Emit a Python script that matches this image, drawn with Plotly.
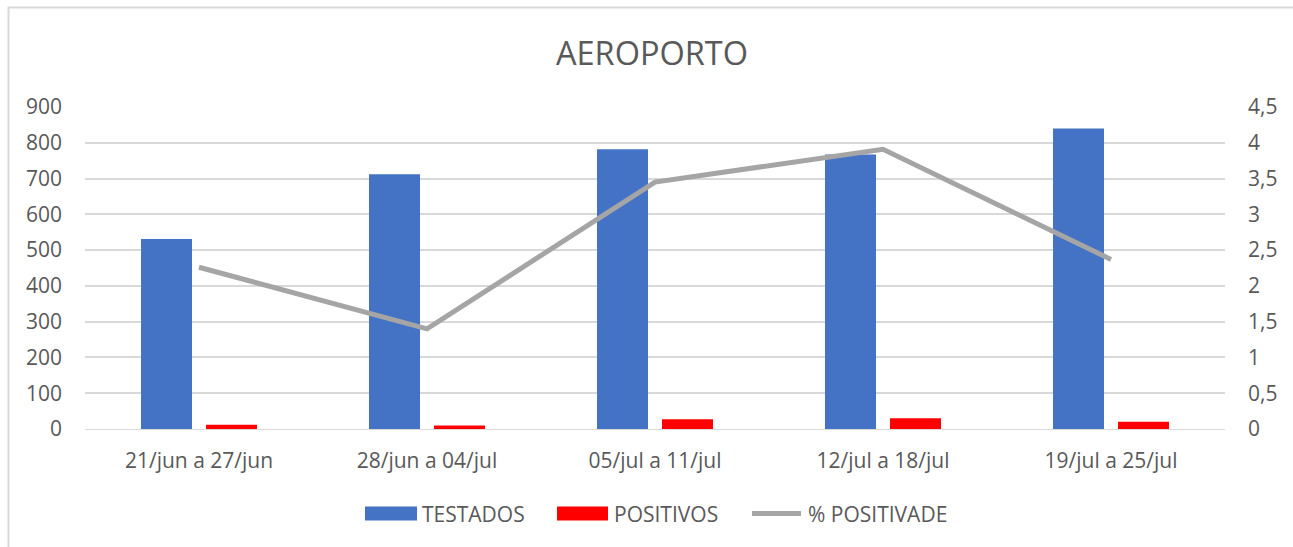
import plotly.graph_objects as go

categories = ["21/jun a 27/jun", "28/jun a 04/jul", "05/jul a 11/jul", "12/jul a 18/jul", "19/jul a 25/jul"]
testados = [531, 712, 782, 767, 840]
positivos = [12, 10, 27, 30, 20]
positividade = [2.26, 1.40, 3.45, 3.91, 2.37]
series_names = ["TESTADOS", "POSITIVOS", "% POSITIVADE"]
left_ticks = [0, 100, 200, 300, 400, 500, 600, 700, 800, 900]
right_ticks = [0, 0.5, 1, 1.5, 2, 2.5, 3, 3.5, 4, 4.5]

W, H = 1293, 547
L, R, T, B = 85, 68, 107, 118
PW, PH = W - L - R, H - T - B

def px(x):
    return (x - L) / PW

def py(y):
    return (H - B - y) / PH

FONT = "Open Sans"
TXT = "#595959"
GRID = "#d9d9d9"
BLUE = "#4472c4"
RED = "#ff0000"
GRAY = "#a5a5a5"

fig = go.Figure()
fig.add_trace(go.Bar(x=categories, y=testados, name=series_names[0], marker_color=BLUE,
                     marker_line_width=0, showlegend=False))
fig.add_trace(go.Bar(x=categories, y=positivos, name=series_names[1], marker_color=RED,
                     marker_line_width=0, showlegend=False))
fig.add_trace(go.Scatter(x=categories, y=positividade, name=series_names[2], mode="lines",
                         line=dict(color=GRAY, width=5), yaxis="y2", showlegend=False))

shapes = [
    # chart border
    dict(type="rect", xref="paper", yref="paper", x0=px(8.5), x1=px(1310), y0=py(560), y1=py(7.5),
         line=dict(color=GRID, width=2), fillcolor="rgba(0,0,0,0)", layer="below"),
    # legend swatches
    dict(type="rect", xref="paper", yref="paper", x0=px(365), x1=px(417), y0=py(520.5), y1=py(506.5),
         line=dict(width=0), fillcolor=BLUE),
    dict(type="rect", xref="paper", yref="paper", x0=px(557), x1=px(608), y0=py(520.5), y1=py(506.5),
         line=dict(width=0), fillcolor=RED),
    dict(type="line", xref="paper", yref="paper", x0=px(752), x1=px(801), y0=py(513.5), y1=py(513.5),
         line=dict(color=GRAY, width=5)),
]
annotations = [
    dict(text=series_names[0], x=px(420), y=py(513.5), xref="paper", yref="paper",
         xanchor="left", yanchor="middle", showarrow=False, font=dict(family=FONT, size=21, color=TXT)),
    dict(text=series_names[1], x=px(612), y=py(513.5), xref="paper", yref="paper",
         xanchor="left", yanchor="middle", showarrow=False, font=dict(family=FONT, size=21, color=TXT)),
    dict(text=series_names[2], x=px(806), y=py(513.5), xref="paper", yref="paper",
         xanchor="left", yanchor="middle", showarrow=False, font=dict(family=FONT, size=21, color=TXT)),
]

fig.update_layout(
    width=W, height=H,
    margin=dict(l=L, r=R, t=T, b=B, autoexpand=False),
    paper_bgcolor="white", plot_bgcolor="white",
    separators=",.",
    font=dict(family=FONT, size=21, color=TXT),
    title=dict(text="AEROPORTO", x=652 / W, xanchor="center", y=1 - 54 / H, yanchor="middle",
               xref="container", yref="container", font=dict(family=FONT, size=32.5, color=TXT)),
    barmode="group", bargap=0.43, bargroupgap=0.215,
    showlegend=False,
    xaxis=dict(showline=True, linecolor=GRID, linewidth=1, showgrid=False, ticks="",
               tickfont=dict(family=FONT, size=21, color=TXT), ticklabelstandoff=13),
    yaxis=dict(range=[0, 900], tickvals=left_ticks, showgrid=True, gridcolor=GRID, gridwidth=1.5,
               zeroline=False, ticks="", tickfont=dict(family=FONT, size=21, color=TXT),
               ticklabelstandoff=22),
    yaxis2=dict(range=[0, 4.5], tickvals=right_ticks, overlaying="y", side="right", showgrid=False,
                zeroline=False, ticks="", tickfont=dict(family=FONT, size=21, color=TXT),
                ticklabelstandoff=22),
    shapes=shapes, annotations=annotations,
)

fig.write_html("out.html", config={"displayModeBar": False},
               post_script="document.body.style.margin='0';document.body.style.overflow='hidden';")
